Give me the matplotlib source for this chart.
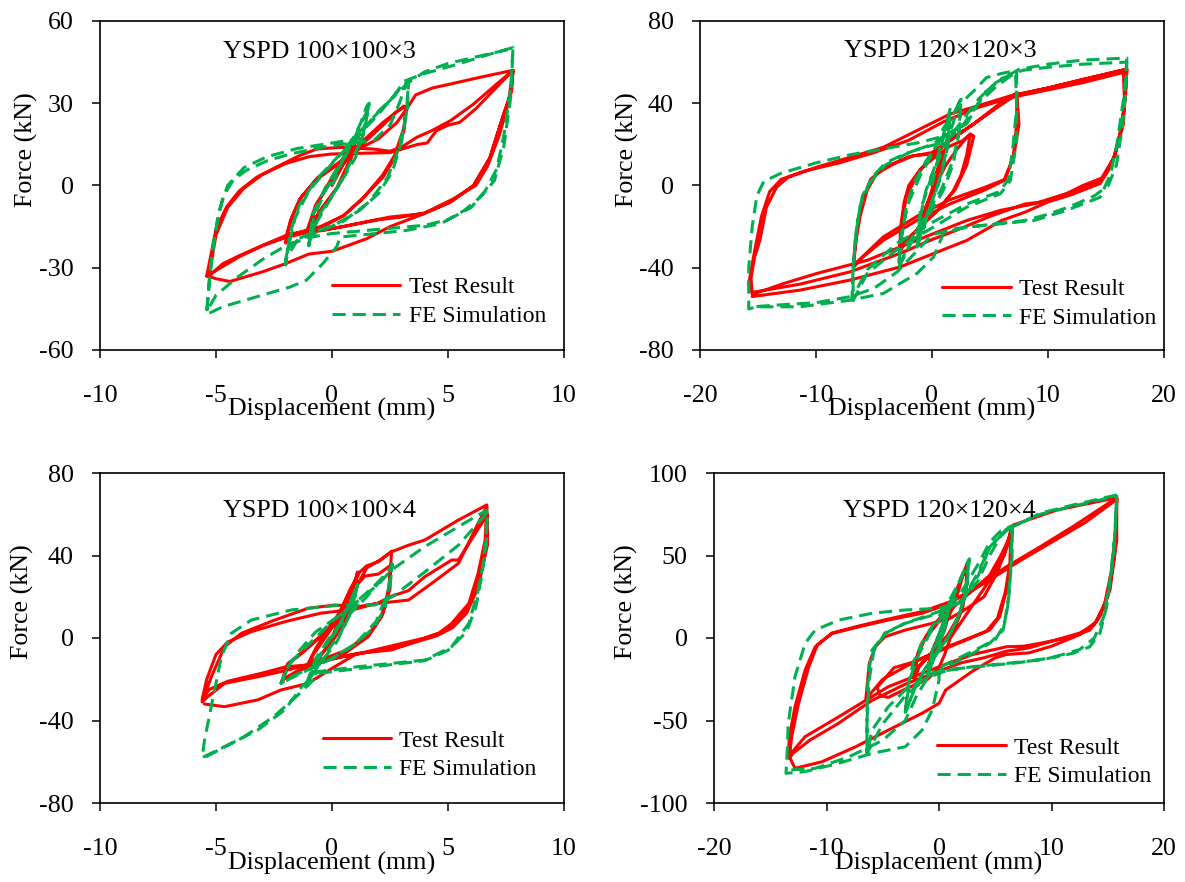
import matplotlib
matplotlib.use("Agg")
import matplotlib.pyplot as plt

plt.rcParams['font.family'] = ['Liberation Serif', 'DejaVu Serif']
plt.rcParams['axes.unicode_minus'] = False

# ---------------- data (displacement mm, force kN) ----------------
TITLES = ["YSPD 100×100×3", "YSPD 120×120×3", "YSPD 100×100×4", "YSPD 120×120×4"]
XTICKS = [[-10, -5, 0, 5, 10], [-20, -10, 0, 10, 20], [-10, -5, 0, 5, 10], [-20, -10, 0, 10, 20]]
YTICKS = [[-60, -30, 0, 30, 60], [-80, -40, 0, 40, 80], [-80, -40, 0, 40, 80], [-100, -50, 0, 50, 100]]
SERIES = ["Test Result", "FE Simulation"]

P1_TEST = [
    (0, 0), (0.5, 8), (1.0, 16), (0.8, 9), (0.3, 0), (-0.4, -8), (-1.0, -16), (-0.7, -8), (-0.2, 0), (0.4, 9),
    (1.0, 17), (0.7, 8), (0.2, -1), (-0.5, -9), (-1.1, -17), (-0.7, -7), (0, 2),
    (0.5, 8), (1.3, 15), (2.2, 22), (2.8, 27), (3.1, 29), (3.2, 28), (3.1, 20), (2.7, 10), (2.2, 3), (1.4, -4),
    (0.5, -11), (-0.4, -15), (-1.3, -17), (-1.9, -18), (-2.0, -21),
    (-1.8, -13), (-1.4, -5), (-0.7, 2), (0.3, 8), (1.3, 16), (2.2, 23), (2.8, 27), (3.2, 29), (3.1, 21), (2.7, 11),
    (2.2, 4), (1.3, -5), (0.5, -11), (-0.5, -15), (-1.4, -17), (-2.0, -19),
    (-1.7, -11), (-1.3, -4), (-0.6, 3), (0.4, 9), (1.3, 14), (2.0, 17), (2.8, 23), (3.3, 29), (3.6, 33), (4.3, 35.5),
    (5.1, 37), (6.4, 39.5), (7.8, 42),
    (7.75, 35), (7.4, 26), (6.8, 10), (6.1, 0), (5.1, -6), (3.9, -10.5), (2.5, -15), (1.5, -19.4), (0, -24),
    (-1, -25), (-2, -28.5), (-3, -31.5), (-4.4, -35), (-5, -34), (-5.4, -33),
    (-5.0, -16), (-4.55, -7.9), (-4.0, -2), (-3.25, 3), (-2.4, 6.7), (-1.4, 10.9), (-0.66, 13.3), (0.35, 13.9),
    (1.78, 13.3), (2.5, 12.5), (3, 14), (3.66, 17.6), (4.3, 20), (5.1, 23.6), (6.1, 29.7), (7.1, 37), (7.8, 42),
    (7.7, 33), (7.4, 26), (6.8, 10), (6.1, 0), (5.1, -6.1), (3.94, -10.3), (2.5, -11.5), (1.07, -13.9),
    (-0.37, -16.4), (-1.81, -17.6), (-2.82, -21.2), (-3.97, -25.5), (-4.7, -28.5), (-5.3, -33),
    (-5.0, -18), (-4.5, -8), (-3.8, -1), (-3, 4), (-2, 8), (-1, 10.5), (0, 11.5), (1.5, 11.8), (2.5, 12), (3.3, 14),
    (3.7, 15), (4.1, 15.5), (4.5, 20), (5, 22), (5.5, 23), (6.2, 28), (7, 35), (7.8, 42),
    (7.6, 30), (7.2, 18), (6.7, 7), (6.2, 0), (5.2, -5), (4, -10), (3, -11.5), (2, -12.5), (0.5, -15), (-1, -17),
    (-2, -19), (-3, -22), (-4, -26), (-5, -31), (-5.4, -33),
]

P1_FE = [
    (0, 0), (0.6, 12), (1.2, 22), (1.5, 29), (1.6, 30), (1.4, 20), (1.0, 10), (0.3, 0), (-0.5, -10), (-0.9, -18),
    (-1.0, -22), (-0.8, -12), (-0.3, -2), (0.4, 8), (1.0, 18), (1.5, 27), (1.6, 30), (1.3, 17), (0.6, 5), (0, -4),
    (-0.7, -14), (-1.0, -21),
    (-0.8, -10), (-0.3, -1), (0.5, 10), (1.3, 20), (2.0, 27), (2.6, 32), (3.0, 36), (3.3, 38), (3.25, 28), (3.0, 16),
    (2.6, 5), (2.0, -3), (1.2, -9), (0.2, -14), (-0.8, -17), (-1.6, -20), (-1.9, -23), (-2.0, -29),
    (-1.8, -17), (-1.4, -7), (-0.7, 2), (0.2, 10), (1.0, 18), (1.8, 25), (2.5, 31), (3.0, 35), (3.3, 38), (3.2, 26),
    (2.9, 14), (2.4, 3), (1.6, -6), (0.5, -13), (-0.6, -17), (-1.5, -20), (-2.0, -27),
    (-1.6, -12), (-1, -2), (0, 8), (1, 17), (2, 26), (2.7, 33), (3.1, 38), (3.9, 40.6), (5.4, 44.2), (6.8, 47.9),
    (7.8, 50.3),
    (7.75, 40), (7.7, 32), (7.4, 13.9), (7.0, 1.8), (6.4, -4.2), (5.7, -9.1), (4.7, -13.9), (3.2, -16.4),
    (1.8, -17.6), (0.35, -18.8), (0.2, -22.4), (-0.4, -28.5), (-1.1, -34.5), (-1.8, -37), (-3.25, -40.6),
    (-4.7, -44.2), (-5.4, -47),
    (-5.3, -35), (-5.1, -20), (-4.7, -4.2), (-4.26, 2), (-3.7, 5.5), (-2.8, 9), (-1.8, 11.5), (-0.4, 14), (0.6, 15.2),
    (1.8, 16.4), (2.5, 22), (2.9, 30), (3.2, 37), (4, 41.5), (5, 44.5), (6, 46.5), (7.8, 50),
    (7.7, 35), (7.4, 18), (7.1, 6), (6.6, -2), (6, -8), (5, -12.5), (4, -14.5), (2, -16), (0, -17.5), (-1, -19),
    (-2, -22), (-3, -27), (-4, -33), (-5, -40), (-5.4, -46),
    (-5.2, -28), (-4.9, -10), (-4.5, 0), (-3.8, 6.5), (-2.8, 10.5), (-1.5, 13.5), (0, 15.5), (1.5, 17.5),
]

P2_TEST = [
    (0, 0), (0.5, 8), (1.0, 15), (0.6, 5), (0, -5), (-0.6, -14), (-1.0, -22), (-0.6, -12), (0, -2), (0.5, 8),
    (1.0, 16), (0.5, 3), (0, -6), (-1, -22),
    (-0.5, -10), (0.3, 0), (1.2, 10), (2.2, 18), (2.8, 22), (3.3, 25), (3.0, 15), (2.5, 5), (1.8, -3), (0.5, -12),
    (-1, -20), (-2.2, -27), (-2.8, -32), (-2.7, -20), (-2.4, -8), (-2, 0), (-1, 8), (0.3, 14), (1.5, 19), (2.7, 22),
    (3.3, 25), (3.6, 24), (3, 10), (2, -2), (0.5, -12), (-1, -20), (-2.5, -28), (-2.8, -33),
    (-2.6, -18), (-2.2, -5), (-1.2, 6), (0, 14),
    (1.5, 22), (3.6, 30), (5.9, 40), (7.0, 44), (7.3, 45), (7.5, 30), (7.04, 13.7), (6.2, 2.4), (4.45, -2.4),
    (1.57, -8.9), (-1.31, -17), (-4.2, -26.7), (-6.0, -35), (-6.8, -40),
    (-6.5, -25), (-6.2, -15), (-5.6, -2.4), (-4.8, 5.7), (-3.3, 10.5), (-1.6, 14.5), (0.13, 15.4), (1.57, 21.8),
    (3.6, 29.9), (5.9, 39.6), (7.04, 43.6), (7.3, 44), (7.3, 30), (7.0, 14), (6.3, 3), (4.5, -1), (1.5, -7),
    (-1.3, -15), (-4.2, -25), (-6.8, -39),
    (-6.5, -22), (-6.0, -8), (-5.3, 3), (-4, 9), (-2, 14), (0, 16), (1.5, 22), (3.6, 30), (5.9, 39), (7.2, 44),
    (10.2, 47.7), (13.1, 51.7), (16.8, 56.6),
    (16.6, 40), (16.5, 29.9), (15.7, 13.7), (14.5, 2.4), (11.6, -4), (8.8, -8.9), (5.9, -12.1), (3.0, -17),
    (0.13, -23.4), (-2.75, -29.9), (-5.6, -36.4), (-9.95, -42.8), (-12.8, -47.7), (-15.5, -53),
    (-15.6, -45), (-15.3, -35), (-14.84, -26.7), (-14.27, -10.5), (-13.4, -0.8), (-12.4, 4), (-9.95, 8.9),
    (-7.07, 13.7), (-4.19, 18.6), (-1.31, 26.7), (1.57, 34.8), (4.45, 39.6), (6.76, 43.6), (10.2, 47.7),
    (13.1, 51.7), (16.8, 56.6),
    (16.7, 45), (16.4, 30), (15.8, 15), (14.8, 4), (13, 0), (11.6, -4), (9.5, -8), (8, -9), (5, -15), (2, -22),
    (0.13, -26), (-2.75, -33), (-7.07, -42), (-11.4, -48), (-15.5, -52),
    (-15.8, -48), (-15.3, -32), (-14.7, -15), (-14, -3), (-13, 3), (-11, 7), (-8, 11), (-5, 16), (-2, 22), (1, 31),
    (4, 38), (7, 43), (10, 46.5), (13, 50), (16.5, 55),
    (16.6, 40), (16.2, 25), (15.5, 10), (14.5, 1), (12, -4.5), (10, -8), (8, -13), (6, -17), (3, -26.7),
    (0.13, -33.1), (-2.75, -39.6), (-7.07, -46), (-11.4, -50.9), (-15.5, -54),
]

P2_FE = [
    (0, 0), (0.6, 15), (1.2, 28), (1.5, 35), (1.4, 20), (0.8, 5), (0, -8), (-0.8, -22), (-1.3, -30), (-1.0, -15),
    (-0.5, -2), (0.3, 10), (1.0, 25), (1.6, 38), (1.3, 18), (0.5, 0), (-0.5, -15), (-1.3, -30),
    (-1.0, -12), (0, 5), (1, 18), (1.8, 30), (2.3, 40), (2.5, 42), (2.3, 25), (1.8, 10), (1, -2), (0, -12), (-1, -20),
    (-2, -30), (-2.7, -38), (-2.9, -40), (-2.6, -25), (-2.2, -10), (-1.5, 2), (-0.5, 12), (0.7, 22), (1.7, 33),
    (2.5, 42), (2.4, 28), (1.8, 12), (0.8, -2), (-0.5, -14), (-1.8, -26), (-2.9, -40),
    (-2.6, -22), (-2, -8), (-1, 5), (0, 15),
    (1, 28), (2.5, 40), (3.6, 46), (4.7, 52.5), (6, 54.5), (7.3, 56), (7.3, 40), (7.3, 21.8), (6.76, 2.4),
    (5.9, -4), (3, -10.5), (0.13, -20.2), (-2.75, -29.9), (-5.6, -42.8), (-6.8, -56),
    (-6.8, -42), (-6.6, -25), (-6.2, -10), (-5.5, 0), (-5, 5), (-4, 11), (-2.5, 15), (-1, 18), (1, 21), (2.5, 28),
    (4, 40), (5.5, 48), (7.2, 55), (7.3, 38), (7.0, 20), (6.6, 3), (5.8, -3), (3, -9), (0, -18), (-3, -28),
    (-5.6, -41), (-6.9, -55),
    (-6.8, -40), (-6.5, -20), (-6, -5), (-5.3, 2), (-4, 10), (-2, 16), (0, 20), (2, 27), (4, 42), (5.5, 50),
    (7.5, 56.5), (10, 59), (13, 61), (16.8, 62),
    (16.6, 45), (16.4, 38), (16, 21.8), (15.4, 5.7), (14.5, -5.7), (11.6, -12.1), (8.8, -17), (5.9, -18.6),
    (3, -20.2), (1, -23), (0.5, -30), (0.13, -34.8), (-1.3, -42.8), (-4.2, -52.5), (-7.07, -55.8), (-11.4, -59),
    (-15.1, -59), (-15.8, -60),
    (-15.8, -40), (-15.5, -20), (-15.1, -5), (-14.5, 2), (-13, 6), (-10, 11), (-7, 15), (-4, 18), (-1, 21), (1, 24),
    (3, 30), (4.5, 45), (6, 52), (7.8, 56), (10, 57.5), (13, 59), (16.8, 60),
    (16.7, 45), (16.4, 28), (15.9, 10), (15.2, 0), (14, -5), (12, -10), (10, -14), (8, -17), (5, -19), (2, -21),
    (0, -24), (-1.5, -33), (-3, -42), (-5, -50), (-7, -54), (-10, -57), (-13, -58), (-15.5, -59),
]

P3_TEST = [
    (0, 0), (0.5, 15), (1.0, 28), (1.1, 32), (0.9, 20), (0.5, 8), (0, -2), (-0.6, -10), (-1.1, -15), (-0.8, -8),
    (-0.3, 0), (0.3, 10), (0.8, 22), (1.1, 31), (0.8, 15), (0.3, 3), (-0.4, -7), (-1.1, -14),
    (-0.7, -5), (-0.3, 2), (0.3, 12), (0.8, 24), (1.2, 32), (1.5, 35), (2.0, 37), (2.57, 42), (2.5, 30),
    (2.43, 23.3), (2.14, 10.3), (1.56, 0.6), (0.55, -7.4), (-0.6, -12.3), (-1.5, -16), (-2.1, -20), (-2.2, -22),
    (-1.9, -12.3), (-1.3, -7.4), (-0.31, 2.3), (0.55, 13.6), (1.13, 26.5), (1.42, 30), (2.0, 31), (2.5, 35),
    (2.5, 24), (2.2, 12), (1.6, 2), (0.6, -6), (-0.6, -11), (-2.1, -20),
    (-1.9, -13), (-1.2, -6), (-0.3, 3), (0.5, 13), (1.1, 26), (1.5, 34), (2.1, 38), (2.57, 41.8), (3.3, 45),
    (4.0, 47.5), (5.45, 57.2), (6.67, 64.5),
    (6.6, 47.5), (6.3, 31.4), (5.9, 16.8), (5.16, 7.1), (4.6, 2.3), (2.57, -5.8), (1.13, -7.4), (-0.31, -10.7),
    (-1.9, -15.5), (-3.2, -18.8), (-4.63, -22), (-5.35, -28.4), (-5.6, -31),
    (-5.4, -25), (-5.2, -18.8), (-4.63, -4.2), (-3.9, 2.3), (-2.47, 8.7), (-1.03, 14.4), (0.12, 16), (1.13, 15.2),
    (2, 16.8), (3.3, 18.4), (4.3, 26.5), (5.45, 36.2), (6.67, 64),
    (6.7, 50), (6.5, 35), (6.2, 22), (5.8, 12), (5.2, 5), (4.5, 1), (3, -4), (2, -6), (0.5, -9), (-1, -13),
    (-2, -14), (-3, -17), (-4.5, -21), (-5.3, -25), (-5.6, -30),
    (-5.4, -20), (-5, -8), (-4.5, -2), (-3.5, 3), (-2, 8), (-0.5, 12), (1, 14), (2, 17), (2.5, 20), (3.3, 23),
    (4, 29.7), (5.16, 37.8), (5.45, 37.8), (6.7, 60),
    (6.7, 45), (6.4, 30), (6, 18), (5.4, 8), (4.8, 3), (4, 0), (2.5, -4), (1, -8), (0.12, -13.9), (-1.03, -22),
    (-2.2, -25.2), (-3.2, -30), (-4.63, -33.3), (-5.5, -32),
]

P3_FE = [
    (0, 0), (0.4, 8), (0.8, 18), (1.1, 26), (0.9, 15), (0.4, 3), (-0.3, -8), (-0.9, -18), (-1.1, -24), (-0.8, -14),
    (-0.3, -4), (0.3, 6), (0.8, 17), (1.1, 26), (0.8, 12), (0.2, -2), (-0.5, -12), (-1.1, -22),
    (-0.7, -10), (0, 2), (0.8, 12), (1.5, 20), (2.1, 28), (2.5, 33), (2.6, 36), (2.5, 25), (2.3, 15), (1.8, 5),
    (1, -3), (0, -10), (-1, -15), (-1.8, -19), (-2.2, -22), (-1.9, -14), (-1.4, -6), (-0.7, 3), (0.2, 10), (1, 17),
    (1.8, 25), (2.4, 32), (2.6, 35), (2.4, 22), (1.9, 8), (1, -3), (-0.2, -11), (-1.5, -18), (-2.2, -22),
    (-1.8, -12), (-1, -3), (0, 8), (1, 17), (2, 26), (2.57, 33), (4, 44.3), (5.45, 54), (6.67, 62),
    (6.65, 50), (6.5, 35), (6.3, 23.3), (5.9, 7.1), (5.16, -4.2), (4, -10.7), (2.57, -12.3), (1.13, -13.9),
    (-0.6, -16.3), (-1.3, -23.6), (-2.04, -34.9), (-3.2, -44.6), (-4.63, -52.7), (-5.6, -58),
    (-5.5, -50), (-5.35, -41.4), (-5.06, -25.2), (-4.77, -9.1), (-4.34, 2.3), (-3.48, 8.7), (-1.75, 13.6),
    (0.41, 16), (1.85, 16), (2.6, 20), (4, 32), (5.45, 45), (6.7, 61),
    (6.65, 45), (6.45, 30), (6.2, 15), (5.8, 3), (5, -6), (4, -11), (2.5, -13), (1, -15), (-0.5, -17),
    (-1.5, -28), (-2.5, -38), (-3.8, -48), (-5.0, -55), (-5.5, -58),
]

P4_TEST = [
    (0, 0), (0.5, 10), (1, 18), (0.6, 8), (0, -3), (-0.6, -12), (-1, -18), (-0.6, -8), (0, 2), (0.6, 12), (1, 19),
    (0.5, 5), (-0.2, -6), (-1, -18),
    (-0.5, -6), (0.3, 5), (1.2, 18), (1.8, 30), (2.2, 40), (2.5, 45), (2.4, 30), (2.1, 18), (1.5, 8), (0.5, -2),
    (-0.8, -10), (-1.8, -18), (-2.2, -25), (-2.0, -12), (-1.6, -4), (-0.8, 5), (0.3, 14), (1.2, 24), (2.0, 36),
    (2.6, 44), (2.4, 28), (1.8, 14), (0.8, 2), (-0.5, -8), (-1.8, -17), (-2.2, -24),
    (-1.9, -10), (-1.2, 0), (0, 10), (1.5, 20), (3, 29), (4.5, 38), (5.5, 50), (6.2, 60), (6.5, 67), (6.4, 45),
    (6, 29.1), (5.4, 12.9), (4.5, 4.8), (3, 0.8), (0, -7.3), (-3, -17.4), (-5, -25), (-6.5, -37),
    (-6.2, -15.4), (-5.66, -5.3), (-4.8, 0.8), (-3, 4.8), (-0.6, 8.9), (1, 12), (2.5, 18), (4, 25), (5.2, 40),
    (6, 55), (6.4, 66), (6.3, 45), (5.9, 28), (5.2, 12), (4.2, 4), (2.5, -1), (0, -8), (-2.5, -15), (-4, -18),
    (-5.5, -30), (-5.2, -35), (-4.5, -36), (-3, -31), (-1, -25),
    (0, -18), (0.5, -10), (1, 0), (2, 10), (3, 20), (4.5, 35), (5.8, 50), (6.6, 68.5), (10.5, 77.6), (15.8, 85),
    (15.8, 59.4), (15.2, 29.1), (14.3, 12.9), (13.4, 4.8), (11.9, 0.8), (9, -3.2), (7.5, -5), (6, -5.3), (3, -10),
    (0, -17.4), (-4.5, -29.5), (-8.9, -47.7), (-11.9, -59.8), (-13.4, -72),
    (-13.3, -60), (-12.8, -41.6), (-11.9, -19.4), (-11, -5.3), (-9.5, 2.8), (-7.1, 6.8), (-4.5, 10.9), (-1.5, 15),
    (0.6, 20), (3, 29), (6, 43.2), (9, 55.3), (11.9, 67.5), (15.8, 85),
    (15.7, 65), (15.3, 40), (14.7, 20), (13.8, 8), (12.5, 3), (10, -2), (8, -6), (6, -8), (4, -12), (2, -15),
    (0, -20), (-3, -28), (-6, -38), (-9, -52), (-11.5, -62), (-13, -70), (-13.3, -73),
    (-13.1, -60), (-12.5, -40), (-11.6, -18), (-10.8, -4), (-9.5, 3), (-7, 7.5), (-4.5, 11.5), (-1.5, 16), (1, 22),
    (4, 33), (7, 46), (10, 58), (13, 70), (15.8, 84),
    (15.6, 50), (15, 25), (14, 10), (12.5, 2), (10, -5), (8, -9), (6, -10), (5, -12), (3, -20), (0.6, -31.5),
    (0, -39.6), (-1.5, -45.6), (-4.5, -55.8), (-7.4, -65.9), (-10.4, -75), (-12.8, -79), (-13.3, -72),
]

P4_FE = [
    (0, 0), (0.5, 12), (1, 22), (0.6, 8), (0, -5), (-0.6, -15), (-1, -22), (-0.6, -10), (0, 2), (0.6, 14), (1, 22),
    (0.4, 4), (-0.3, -10), (-1, -22),
    (-0.6, -8), (0.2, 6), (1, 20), (1.8, 34), (2.4, 44), (2.7, 48), (2.5, 32), (2, 18), (1.2, 5), (0, -8),
    (-1.2, -18), (-2.2, -30), (-2.8, -42), (-3, -46), (-2.8, -30), (-2.3, -15), (-1.5, -3), (-0.5, 8), (0.7, 20),
    (1.8, 34), (2.6, 46), (2.4, 30), (1.8, 14), (0.8, 0), (-0.6, -12), (-2, -28), (-3, -45),
    (-2.6, -25), (-1.8, -10), (-0.8, 3), (0.5, 15), (2, 28), (3.5, 45), (4.5, 58), (5.5, 65), (6.5, 68), (6.4, 45),
    (6.1, 19), (5.7, 4.8), (4.5, -3.2), (3, -9.3), (0, -20), (-3, -31.5), (-4.5, -41.6), (-5.95, -55.8),
    (-6.4, -70),
    (-6.4, -45), (-6.3, -23), (-5.95, -7.3), (-4.8, 2.8), (-3, 8.9), (0, 15), (2, 22), (3.5, 35), (4.5, 50),
    (5.5, 62), (6.5, 68), (6.5, 50), (6.2, 25), (5.8, 8), (5, -1), (3, -8), (0, -18), (-3, -35), (-5, -52),
    (-6.4, -70),
    (-6.4, -50), (-6.2, -25), (-5.8, -8), (-4.8, 3), (-3, 9), (0, 16), (2, 22), (3.5, 38), (4.5, 55), (6, 65.5),
    (9, 75.6), (11.9, 80.6), (15.8, 86.7),
    (15.7, 70), (15.5, 49.3), (14.9, 19), (14.3, 2.8), (13.4, -5.3), (11.9, -9.3), (9, -13.3), (6, -15.4),
    (3, -17.4), (0, -20.4), (0, -25.5), (-0.6, -43.6), (-1.5, -55.8), (-3, -65.9), (-5.95, -69.9), (-8.9, -75.9),
    (-11.9, -81), (-13.6, -82),
    (-13.5, -70), (-13.4, -51.7), (-12.8, -23.4), (-11.9, -3.2), (-11, 4.8), (-8.9, 10.9), (-5.95, 15), (-3, 17),
    (0, 18), (2, 22), (3.5, 40), (4.5, 55), (6, 66), (9, 75), (12, 80), (15.8, 86),
    (15.6, 60), (15.2, 35), (14.6, 12), (13.8, 0), (12.5, -7), (10, -12), (7, -15), (4, -17), (1, -19), (-1, -24),
    (-2, -35), (-3, -50), (-5, -62), (-8, -72), (-11, -79), (-13.3, -80),
]

TEST_DATA = [P1_TEST, P2_TEST, P3_TEST, P4_TEST]
FE_DATA = [P1_FE, P2_FE, P3_FE, P4_FE]

# ---------------- layout ----------------
RED = '#FF0000'
GREEN = '#00B050'
FS = 18.7

# axes rectangles in pixels (left, top, right, bottom) on 1185x882 canvas
BOXES = [(100, 21, 564, 350), (700, 21, 1164, 350), (100, 473, 564, 803), (714, 473, 1164, 803)]
TITLE_POS = [(0.473, 0.888), (0.517, 0.89), (0.473, 0.867), (0.501, 0.867)]
LEG_POS = [(0.50, 0.146), (0.522, 0.141), (0.48, 0.145), (0.496, 0.124)]
YLAB_X = [-0.159, -0.157, -0.168, -0.195]

W, H = 1185, 882
fig = plt.figure(figsize=(W / 100, H / 100), dpi=100)

for i in range(4):
    l, t, r, b = BOXES[i]
    ax = fig.add_axes([l / W, 1 - b / H, (r - l) / W, (b - t) / H])
    tx, ty = zip(*TEST_DATA[i])
    fx, fy = zip(*FE_DATA[i])
    ax.plot(tx, ty, color=RED, lw=2.2, solid_joinstyle='round', solid_capstyle='round', label=SERIES[0])
    ax.plot(fx, fy, color=GREEN, lw=2.2, linestyle=(0, (4.3, 2.3)), dash_joinstyle='round',
            label=SERIES[1])

    ax.set_xlim(XTICKS[i][0], XTICKS[i][-1])
    ax.set_ylim(YTICKS[i][0], YTICKS[i][-1])
    ax.set_xticks(XTICKS[i])
    ax.set_yticks(YTICKS[i])
    ax.set_xticklabels([str(v) for v in XTICKS[i]])
    ax.set_yticklabels([str(v) for v in YTICKS[i]])
    ax.tick_params(axis='both', direction='out', length=6, width=1.1, labelsize=FS,
                   top=False, right=False, colors='black')
    ax.tick_params(axis='x', pad=19)
    ax.tick_params(axis='y', pad=13)
    for s in ax.spines.values():
        s.set_linewidth(1.2)
        s.set_color('black')

    ax.set_xlabel("Displacement (mm)", fontsize=FS)
    ax.xaxis.label.set_va('center')
    ax.xaxis.set_label_coords(0.5, -0.182)
    ax.set_ylabel("Force (kN)", fontsize=FS)
    ax.yaxis.label.set_va('center')
    ax.yaxis.set_label_coords(YLAB_X[i], 0.61)

    ax.text(TITLE_POS[i][0], TITLE_POS[i][1], TITLES[i], transform=ax.transAxes,
            ha='center', va='baseline', fontsize=FS)

    ax.legend(loc='center left', bbox_to_anchor=LEG_POS[i], frameon=False, fontsize=17,
              handlelength=2.9, handletextpad=0.35, labelspacing=0.3, borderpad=0, borderaxespad=0)

fig.savefig("out.png", dpi=100)
